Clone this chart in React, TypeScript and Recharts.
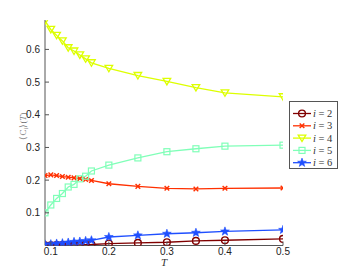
import React from "react";
import { LineChart, Line, XAxis, YAxis, Legend } from "recharts";

const T = [0.09, 0.1, 0.11, 0.12, 0.13, 0.14, 0.15, 0.16, 0.17, 0.2, 0.25, 0.3, 0.35, 0.4, 0.5];
const c2 = [0.0005, 0.0007, 0.001, 0.0012, 0.0015, 0.0018, 0.002, 0.0025, 0.003, 0.006, 0.008, 0.01, 0.014, 0.016, 0.02];
const c3 = [0.214, 0.216, 0.214, 0.211, 0.209, 0.207, 0.205, 0.202, 0.199, 0.189, 0.181, 0.175, 0.173, 0.175, 0.176];
const c4 = [0.687, 0.661, 0.643, 0.626, 0.605, 0.595, 0.583, 0.571, 0.559, 0.542, 0.52, 0.502, 0.483, 0.467, 0.455];
const c5 = [0.1, 0.124, 0.144, 0.159, 0.179, 0.187, 0.204, 0.212, 0.228, 0.246, 0.268, 0.287, 0.296, 0.304, 0.307];
const c6 = [0.003, 0.004, 0.006, 0.007, 0.009, 0.011, 0.012, 0.014, 0.016, 0.026, 0.031, 0.036, 0.039, 0.043, 0.048];

const xTicks = [0.1, 0.2, 0.3, 0.4, 0.5];
const yTicks = [0.1, 0.2, 0.3, 0.4, 0.5, 0.6];
const seriesNames = ["i = 2", "i = 3", "i = 4", "i = 5", "i = 6"];

const data = T.map((t, k) => ({ T: t, c2: c2[k], c3: c3[k], c4: c4[k], c5: c5[k], c6: c6[k] }));

const AX = "#555";
const LABEL = "#222";
const COLORS = ["#800000", "#ff3000", "#ddff00", "#80ffb8", "#1f4fff"];
const KEYS = ["c2", "c3", "c4", "c5", "c6"];
const SHAPES = ["circle", "x", "tri", "square", "star"];
const M = 4; // tick margin
const TL = 4; // tick length

function Marker({ shape, cx, cy, color }: { shape: string; cx: number; cy: number; color: string }) {
  if (cx == null || cy == null || isNaN(cx) || isNaN(cy)) return null;
  if (shape === "circle")
    return <circle cx={cx} cy={cy} r={3.4} fill="none" stroke={color} strokeWidth={1.4} />;
  if (shape === "x") {
    const s = 2.3;
    return (
      <g stroke={color} strokeWidth={1.4}>
        <line x1={cx - s} y1={cy - s} x2={cx + s} y2={cy + s} />
        <line x1={cx - s} y1={cy + s} x2={cx + s} y2={cy - s} />
      </g>
    );
  }
  if (shape === "tri") {
    const s = 3.8;
    return (
      <polygon
        points={`${cx - s},${cy - s * 0.8} ${cx + s},${cy - s * 0.8} ${cx},${cy + s * 0.9}`}
        fill="none"
        stroke={color}
        strokeWidth={1.3}
      />
    );
  }
  if (shape === "square") {
    const s = 3;
    return <rect x={cx - s} y={cy - s} width={2 * s} height={2 * s} fill="none" stroke={color} strokeWidth={1.2} />;
  }
  const R = 4.6;
  const r = 1.9;
  const pts: string[] = [];
  for (let k = 0; k < 10; k++) {
    const a = -Math.PI / 2 + (k * Math.PI) / 5;
    const rr = k % 2 === 0 ? R : r;
    pts.push(`${cx + rr * Math.cos(a)},${cy + rr * Math.sin(a)}`);
  }
  return <polygon points={pts.join(" ")} fill={color} stroke={color} strokeWidth={0.6} />;
}

const BottomTick = (p: any) => {
  const ay = p.y - M;
  return (
    <g>
      <line x1={p.x} y1={ay} x2={p.x} y2={ay - TL} stroke={AX} strokeWidth={1} />
      <text x={p.x} y={p.y + 5.5} textAnchor="middle" fontSize={10} fill={LABEL} fontFamily="Liberation Sans, Arial">
        {p.payload.value}
      </text>
    </g>
  );
};
const TopTick = (p: any) => {
  const ay = p.y + M;
  return <line x1={p.x} y1={ay} x2={p.x} y2={ay + TL} stroke={AX} strokeWidth={1} />;
};
const LeftTick = (p: any) => {
  const ax = p.x + M;
  return (
    <g>
      <line x1={ax} y1={p.y} x2={ax + TL} y2={p.y} stroke={AX} strokeWidth={1} />
      <text x={p.x - 1} y={p.y + 3.5} textAnchor="end" fontSize={10} fill={LABEL} fontFamily="Liberation Sans, Arial">
        {p.payload.value}
      </text>
    </g>
  );
};
const RightTick = (p: any) => {
  const ax = p.x - M;
  return <line x1={ax} y1={p.y} x2={ax - TL} y2={p.y} stroke={AX} strokeWidth={1} />;
};

const LegendBox = () => (
  <div
    style={{
      position: "relative",
      width: 49,
      height: 68,
      border: `1px solid ${AX}`,
      background: "#fff",
      boxSizing: "border-box",
    }}
  >
    <svg width={47} height={66} style={{ display: "block", position: "absolute", left: 0, top: 0 }}>
      {seriesNames.map((n, k) => {
        const y = 11.5 + k * 12.3;
        return (
          <g key={n}>
            <line x1={3} y1={y} x2={21} y2={y} stroke={COLORS[k]} strokeWidth={1.3} />
            <Marker shape={SHAPES[k]} cx={12} cy={y} color={COLORS[k]} />
            <text x={23} y={y + 3.5} fontSize={10.5} fill="#333" fontFamily="Liberation Serif, Times New Roman, serif">
              <tspan fontStyle="italic">i</tspan>
              <tspan> = {n.slice(4)}</tspan>
            </text>
          </g>
        );
      })}
    </svg>
  </div>
);

export default function App() {
  return (
    <div style={{ position: "absolute", left: 0, top: 0, width: 350, height: 276, background: "#fff" }}>
      <LineChart width={350} height={276} data={data} margin={{ top: 20, right: 67, bottom: 0, left: 0 }}>
        <XAxis
          dataKey="T"
          type="number"
          domain={[0.09, 0.5]}
          ticks={xTicks}
          xAxisId="b"
          height={30.5}
          tickSize={0}
          tickMargin={M}
          tickLine={false}
          axisLine={{ stroke: AX }}
          tick={<BottomTick />}
          allowDataOverflow
        />
        <XAxis
          dataKey="T"
          type="number"
          domain={[0.09, 0.5]}
          ticks={xTicks}
          xAxisId="t"
          orientation="top"
          height={0}
          tickSize={0}
          tickMargin={M}
          tickLine={false}
          axisLine={{ stroke: AX }}
          tick={<TopTick />}
          allowDataOverflow
        />
        <YAxis
          type="number"
          domain={[0, 0.69]}
          ticks={yTicks}
          yAxisId="l"
          width={45}
          tickSize={0}
          tickMargin={M}
          tickLine={false}
          axisLine={{ stroke: AX }}
          tick={<LeftTick />}
          allowDataOverflow
        />
        <YAxis
          type="number"
          domain={[0, 0.69]}
          ticks={yTicks}
          yAxisId="r"
          orientation="right"
          width={0}
          tickSize={0}
          tickMargin={M}
          tickLine={false}
          axisLine={{ stroke: AX }}
          tick={<RightTick />}
          allowDataOverflow
        />
        {KEYS.map((k, i) => (
          <Line
            key={k}
            dataKey={k}
            name={seriesNames[i]}
            xAxisId="b"
            yAxisId="l"
            type="linear"
            stroke={COLORS[i]}
            strokeWidth={1.3}
            isAnimationActive={false}
            dot={(p: any) => <Marker key={`${k}-${p.index}`} shape={SHAPES[i]} cx={p.cx} cy={p.cy} color={COLORS[i]} />}
            activeDot={false}
          />
        ))}
        <Legend
          layout="vertical"
          align="center"
          verticalAlign="middle"
          content={<LegendBox />}
          wrapperStyle={{ position: "absolute", left: 289, top: 101, width: 49, height: 68, margin: 0, padding: 0 }}
        />
        <text
          x={164}
          y={265.5}
          textAnchor="middle"
          fontSize={11}
          fontStyle="italic"
          fill="#333"
          fontFamily="Liberation Serif, Times New Roman, serif"
        >
          T
        </text>
        <text
          x={26}
          y={126}
          textAnchor="middle"
          fontSize={9}
          fill="#777"
          fontFamily="Liberation Serif, Times New Roman, serif"
          transform="rotate(-90 26 126)"
        >
          ⟨C<tspan fontStyle="italic" fontSize={7} dy={2}>i</tspan>
          <tspan dy={-2}>⟩(</tspan>
          <tspan fontStyle="italic">T</tspan>)
        </text>
      </LineChart>
    </div>
  );
}
